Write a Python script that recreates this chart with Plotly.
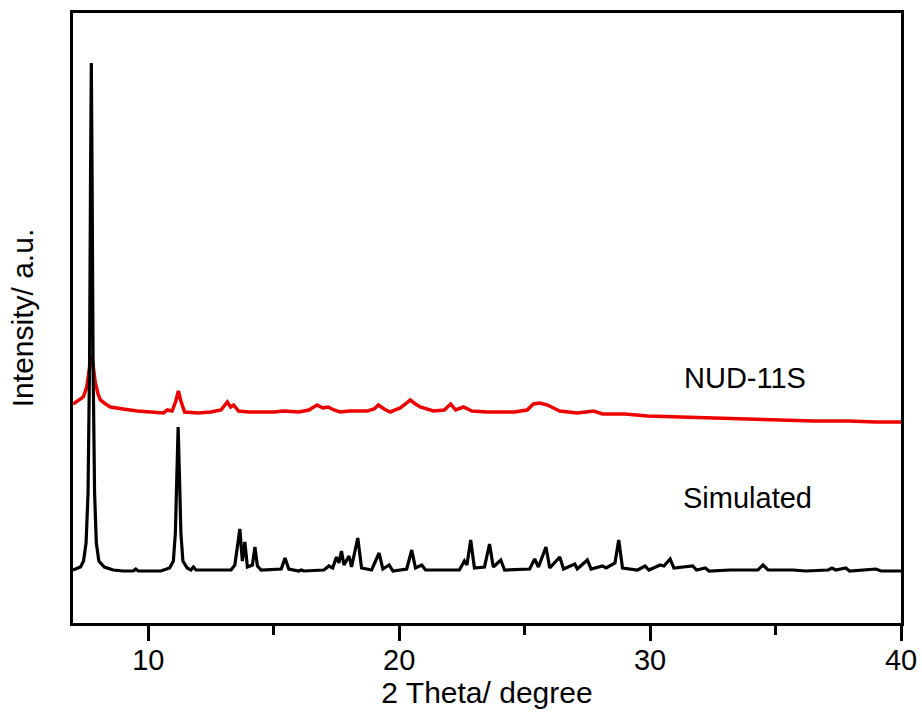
import plotly.graph_objects as go

# Simulated pattern (2θ, intensity a.u.)
sim_x = [7.0, 7.3, 7.42, 7.52, 7.6, 7.66, 7.7, 7.73, 7.76, 7.8, 7.86, 7.93, 8.03, 8.25, 8.6,
         9.0, 9.4, 9.5, 9.6, 10.5, 10.85, 11.0, 11.08, 11.14, 11.19, 11.24, 11.3, 11.38, 11.55, 11.7,
         11.8, 11.9, 13.3, 13.45, 13.55, 13.65, 13.75, 13.85, 13.95, 14.15, 14.25, 14.35, 14.5,
         15.3, 15.45, 15.6, 16.0, 16.1, 16.2, 17.0, 17.2, 17.35, 17.5, 17.6, 17.7, 17.8, 18.0,
         18.1, 18.35, 18.5, 18.9, 19.2, 19.35, 19.6, 19.75, 20.3, 20.5, 20.65, 20.9, 21.05,
         22.4, 22.6, 22.7, 22.85, 23.0, 23.4, 23.6, 23.75, 24.05, 24.2, 25.2, 25.4, 25.55,
         25.85, 26.0, 26.4, 26.55, 27.0, 27.1, 27.5, 27.65, 28.1, 28.25, 28.6, 28.75, 28.9,
         29.5, 29.8, 29.95, 30.4, 30.55, 30.8, 30.95, 31.7, 31.85, 32.2, 32.35, 33.2, 34.3,
         34.5, 34.7, 35.7, 36.2, 37.1, 37.25, 37.4, 37.8, 37.95, 39.0, 39.2, 40.0]
sim_y = [53, 56, 62, 80, 130, 260, 450, 560, 450, 260, 130, 80, 62, 56, 53,
         52, 52, 54, 52, 52, 55, 62, 90, 150, 196, 150, 90, 62, 55, 53,
         56, 53, 53, 58, 75, 94, 62, 81, 56, 58, 76, 57, 53,
         54, 65, 54, 52, 53, 52, 53, 57, 55, 66, 60, 72, 58, 67,
         56, 85, 55, 53, 70, 54, 58, 52, 54, 73, 55, 58, 53,
         53, 62, 58, 83, 55, 56, 79, 56, 63, 53, 54, 64, 56,
         76, 55, 66, 54, 59, 54, 63, 54, 57, 55, 60, 83, 55,
         53, 57, 53, 58, 57, 64, 55, 57, 53, 55, 52, 53, 53,
         58, 53, 53, 52, 53, 55, 53, 55, 52, 54, 52, 52]

# Measured NUD-11S pattern
exp_x = [7.0, 7.2, 7.41, 7.55, 7.65, 7.73, 7.8, 7.89, 8.0, 8.09, 8.3, 8.49, 9.0, 9.56, 10.1,
         10.6, 10.76, 10.95, 11.1, 11.2, 11.3, 11.45, 12.0, 12.5, 12.9, 13.15, 13.28, 13.4,
         13.6, 14.0, 15.0, 15.4, 16.0, 16.4, 16.73, 16.95, 17.17, 17.4, 17.65, 18.0, 18.73,
         19.0, 19.17, 19.4, 19.64, 20.04, 20.25, 20.44, 20.65, 20.84, 21.36, 21.8, 22.05,
         22.25, 22.56, 22.9, 23.5, 24.0, 24.6, 25.1, 25.35, 25.6, 25.9, 26.15, 26.4, 27.1,
         27.45, 27.75, 28.1, 29.0, 29.9, 31.0, 32.5, 34.0, 35.2, 36.5, 37.9, 39.0, 40.0]
exp_y = [219, 222, 226, 236, 252, 268, 258, 240, 229, 223, 219, 216, 214, 212, 211,
         210, 213, 212, 222, 232, 222, 211, 210, 211, 213, 221, 216, 218,
         212, 211, 211, 212, 211, 213, 218, 215, 216, 213, 211, 212, 212,
         214, 218, 214, 211, 215, 219, 223, 219, 216, 212, 213, 219,
         213, 216, 212, 211, 211, 211, 213, 219, 220, 218, 215, 212, 210,
         211, 212, 209, 209, 207, 206, 205, 204, 203, 202, 202, 201, 201]

x_ticks = [10, 20, 30, 40]
labels = ["NUD-11S", "Simulated"]

FONT = "Arial, 'Liberation Sans', Helvetica, sans-serif"

fig = go.Figure()
fig.add_trace(go.Scatter(x=exp_x, y=exp_y, mode="lines",
                         line=dict(color="#ee0000", width=3.5), showlegend=False))
fig.add_trace(go.Scatter(x=sim_x, y=sim_y, mode="lines",
                         line=dict(color="black", width=3.2), showlegend=False))

fig.add_annotation(x=33.8, y=245, text=labels[0], showarrow=False,
                   font=dict(family=FONT, size=29, color="black"))
fig.add_annotation(x=33.9, y=125, text=labels[1], showarrow=False,
                   font=dict(family=FONT, size=29, color="black"))

fig.update_layout(
    width=922, height=720,
    margin=dict(l=73, r=21, t=13, b=97, autoexpand=False),
    paper_bgcolor="white", plot_bgcolor="white",
    font=dict(family=FONT, size=28, color="black"),
)
fig.update_xaxes(
    range=[7, 40], tickvals=x_ticks, ticktext=[str(v) for v in x_ticks],
    showline=True, linecolor="black", linewidth=3, mirror=True,
    ticks="outside", ticklen=15, tickwidth=2.5, tickcolor="black",
    ticklabelstandoff=-6,
    minor=dict(tickvals=[15, 25, 35], ticks="outside", ticklen=9, tickwidth=2.5, tickcolor="black"),
    showgrid=False, zeroline=False, automargin=False,
    tickfont=dict(family=FONT, size=29),
    title=dict(text="2 Theta/ degree", font=dict(family=FONT, size=30), standoff=2),
)
fig.update_yaxes(
    range=[0, 610], showticklabels=False, ticks="",
    showline=True, linecolor="black", linewidth=3, mirror=True,
    showgrid=False, zeroline=False, automargin=False,
    title=dict(text="Intensity/ a.u.", font=dict(family=FONT, size=30), standoff=28),
)

fig.write_html("out.html", config={"displayModeBar": False},
               post_script="document.body.style.margin='0';document.body.style.overflow='hidden';")
